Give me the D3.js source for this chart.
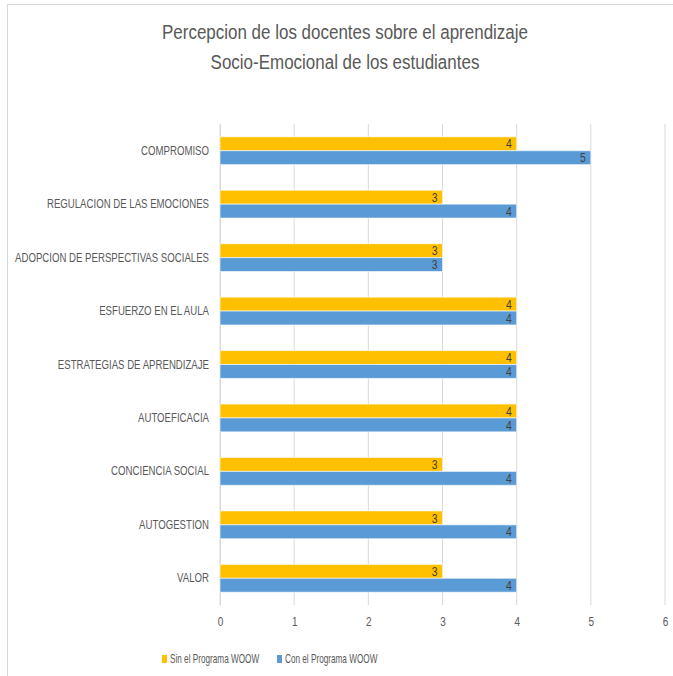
<!DOCTYPE html>
<html><head><meta charset="utf-8">
<script src="https://cdn.jsdelivr.net/npm/d3@7"></script>
<style>
body{margin:0;background:#fff;}
text{font-family:"Liberation Sans",Arial,sans-serif;}
</style></head>
<body><svg id="chart" width="673" height="676"></svg>
<script>
const categories = ["COMPROMISO","REGULACION DE LAS EMOCIONES","ADOPCION DE PERSPECTIVAS SOCIALES","ESFUERZO EN EL AULA","ESTRATEGIAS DE APRENDIZAJE","AUTOEFICACIA","CONCIENCIA SOCIAL","AUTOGESTION","VALOR"];
const seriesNames = ["Sin el Programa WOOW","Con el Programa WOOW"];
const sinValues = [4,3,3,4,4,4,3,3,3];
const conValues = [5,4,3,4,4,4,4,4,4];
const colors = ["#FFC000","#5B9BD5"];
const xTicks = [0,1,2,3,4,5,6];
const titleLines = ["Percepcion de los docentes sobre el aprendizaje","Socio-Emocional de los estudiantes"];

(function(){
const svg = d3.select("#chart");
function condense(sel, f){
  sel.each(function(){
    const L = this.getComputedTextLength();
    d3.select(this).attr("textLength", L*f).attr("lengthAdjust","spacingAndGlyphs");
  });
}
svg.append("rect").attr("x",7.5).attr("y",4.5).attr("width",700).attr("height",700)
  .attr("fill","#fff").attr("stroke","#d9d9d9");

const pLeft=220, pRight=665, pTop=124, pBottom=605;
const x = d3.scaleLinear().domain([0,6]).range([pLeft,pRight]);
const y = d3.scaleBand().domain(categories).range([pTop,pBottom]).paddingInner(0.48).paddingOuter(0.24);
const ySub = d3.scaleBand().domain([0,1]).range([0,y.bandwidth()]);

const tt = svg.selectAll(".title").data(titleLines).join("text")
  .attr("x",345).attr("y",(d,i)=>39+i*30).attr("text-anchor","middle")
  .attr("font-size",19.5).attr("fill","#595959").text(d=>d);
condense(tt,0.87);

svg.append("g").selectAll("line").data(xTicks).join("line")
  .attr("x1",d=>x(d)).attr("x2",d=>x(d)).attr("y1",pTop).attr("y2",pBottom)
  .attr("stroke","#d9d9d9").attr("stroke-width",1);

const xAxis = d3.axisBottom(x).tickValues(xTicks).tickFormat(d3.format("d")).tickSize(0).tickPadding(12);
const gx = svg.append("g").attr("transform",`translate(0,${pBottom})`).call(xAxis);
gx.select(".domain").remove();
gx.attr("font-family",null);
gx.selectAll("text").attr("font-size",12.5).attr("fill","#595959");
condense(gx.selectAll("text"),0.8);

const yAxis = d3.axisLeft(y).tickSize(0).tickPadding(11);
const gy = svg.append("g").attr("transform",`translate(${pLeft},0)`).call(yAxis);
gy.attr("font-family",null);
gy.select(".domain").attr("stroke","#d9d9d9");
gy.selectAll("text").attr("font-size",12.5).attr("fill","#595959");
condense(gy.selectAll("text"),0.77);

const data = categories.map((c,i)=>({c, vals:[sinValues[i],conValues[i]]}));
const groups = svg.append("g").selectAll("g").data(data).join("g")
  .attr("transform",d=>`translate(0,${y(d.c)})`);
groups.selectAll("rect").data(d=>d.vals).join("rect")
  .attr("x",x(0)).attr("y",(d,i)=>ySub(i)).attr("width",d=>x(d)-x(0)).attr("height",ySub.bandwidth())
  .attr("fill",(d,i)=>colors[i]).attr("stroke","#fff").attr("stroke-opacity",0.6).attr("stroke-width",1);
const vl = groups.selectAll("text").data(d=>d.vals).join("text")
  .attr("x",d=>x(d)-5).attr("y",(d,i)=>ySub(i)+ySub.bandwidth()/2).attr("dy","0.36em")
  .attr("text-anchor","end").attr("font-size",13).attr("fill","#404040").text(d=>d);
condense(vl,0.8);

const legendX = [162,277];
const lg = svg.append("g").selectAll("g").data(seriesNames).join("g")
  .attr("transform",(d,i)=>`translate(${legendX[i]},659)`);
lg.append("rect").attr("x",0).attr("y",-4).attr("width",5).attr("height",8).attr("fill",(d,i)=>colors[i]);
const lt = lg.append("text").attr("x",8).attr("y",-1).attr("dy","0.35em").attr("font-size",13).attr("fill","#595959").text(d=>d);
condense(lt,0.63);
})();
</script></body></html>
